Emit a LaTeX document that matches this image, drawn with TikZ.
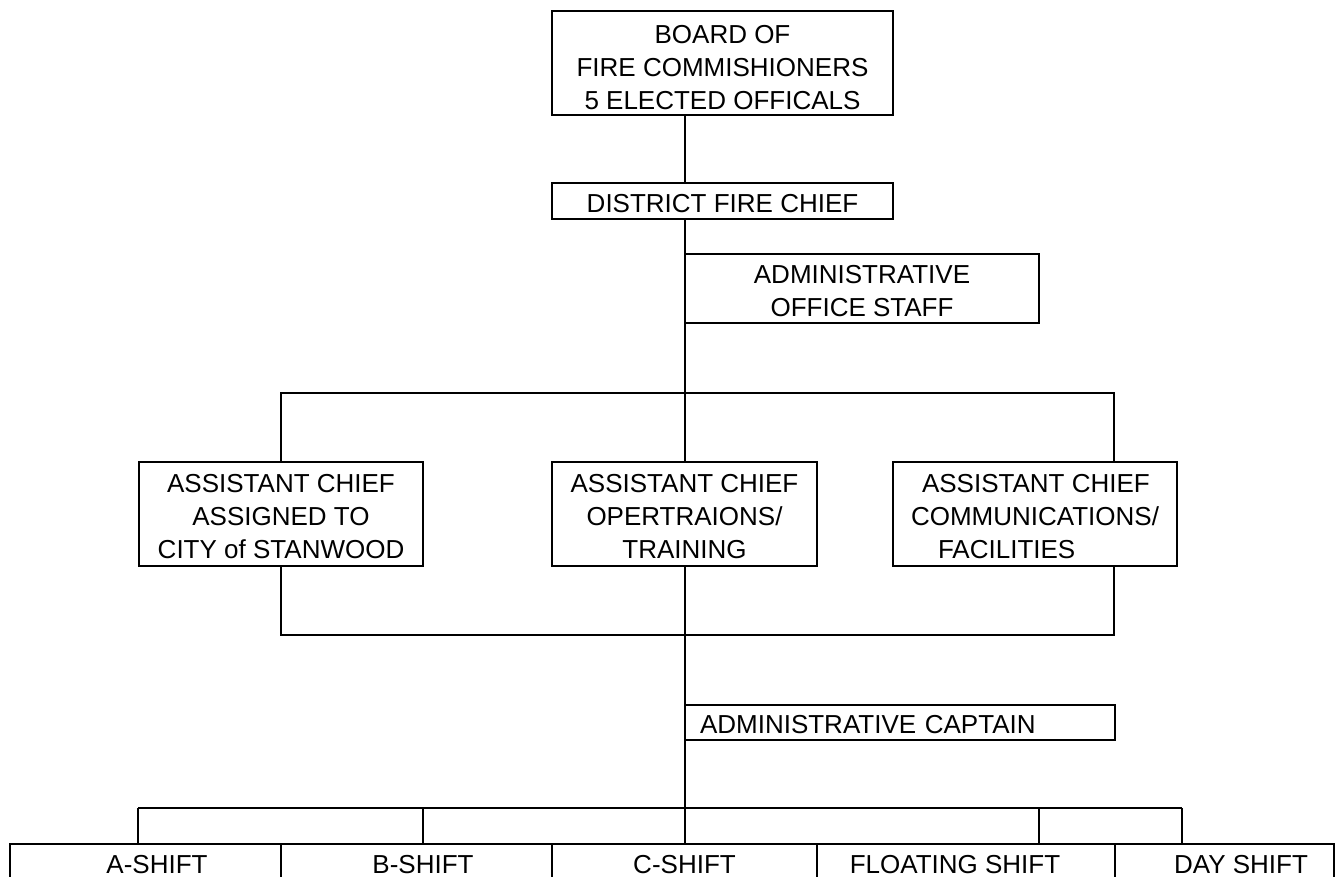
\documentclass[tikz,border=0pt]{standalone}
\usepackage{fontspec}
\setmainfont{Liberation Sans}
\newcommand{\lowr}[1]{\rule{0pt}{#1}}
\begin{document}
\begin{tikzpicture}[x=1pt,y=-1pt,
  box/.style={draw,line width=2pt,inner sep=0pt,outer sep=0pt,font=\fontsize{26}{33}\selectfont,align=center},
  shiftbox/.style={box,anchor=north,text height=29pt,text depth=30pt,minimum height=0pt},
  conn/.style={line width=2pt}]
\useasboundingbox (0,0) rectangle (1342,877);
\clip (0,0) rectangle (1342,877);
\fill[white] (0,0) rectangle (1342,877);

\node[box,minimum width=341pt,minimum height=104pt] (board) at (722.5,63) {\lowr{28pt}BOARD OF\\FIRE COMMISHIONERS\\5 ELECTED OFFICALS};
\node[box,minimum width=341pt,minimum height=36pt] (chief) at (722.5,201) {\lowr{24pt}DISTRICT FIRE CHIEF};
\node[box,minimum width=354pt,minimum height=69pt] (office) at (862,288.5) {\lowr{24pt}ADMINISTRATIVE\\OFFICE STAFF};
\node[box,minimum width=284pt,minimum height=104pt] (ac1) at (281,514) {\lowr{24pt}ASSISTANT CHIEF\\ASSIGNED TO\\CITY of STANWOOD};
\node[box,minimum width=265pt,minimum height=104pt] (ac2) at (684.5,514) {\lowr{24pt}ASSISTANT CHIEF\\OPERTRAIONS/\\TRAINING};
\node[box,minimum width=284pt,minimum height=104pt,align=left] (ac3) at (1035,514) {\lowr{24pt}\hspace*{11pt}ASSISTANT CHIEF\\COMMUNICATIONS/\\\hspace*{27pt}FACILITIES};
\node[box,minimum width=430pt,minimum height=35pt,text width=400pt,align=left] (captain) at (900,722.5) {\lowr{22.6pt}ADMINISTRATIVE CAPTAIN};

\node[shiftbox,minimum width=271pt] (sa) at (145.5,844) {\hspace*{23pt}A-SHIFT};
\node[shiftbox,minimum width=271pt] (sb) at (416.5,844) {\hspace*{13pt}B-SHIFT};
\node[shiftbox,minimum width=265pt] (sc) at (684.5,844) {C-SHIFT};
\node[shiftbox,minimum width=298pt] (sf) at (966,844) {FLOATING SHIFT\hspace*{22pt}};
\node[shiftbox,minimum width=219pt] (sd) at (1224.5,844) {\hspace*{33pt}DAY SHIFT};

\coordinate (spine) at (685,0);
\coordinate (right) at (1114,0);
\coordinate (bar1) at (0,393);
\coordinate (bar2) at (0,635);
\coordinate (bar3) at (0,808);
\coordinate (dA) at (138,0);
\coordinate (dB) at (423,0);
\coordinate (dF) at (1039,0);
\coordinate (dD) at (1182,0);

\draw[conn] (board.south -| spine) -- (chief.north -| spine);
\draw[conn] (chief.south -| spine) -- (ac2.north -| spine);
\draw[conn] (ac1.north) |- (bar1 -| right) -- (ac3.north -| right);
\draw[conn] (ac1.south) |- (bar2 -| right) -- (ac3.south -| right);
\draw[conn] (ac2.south -| spine) -- (sc.north -| spine);
\draw[conn] (bar3 -| dA) -- (bar3 -| dD);
\draw[conn] (bar3 -| dA) -- (sa.north -| dA);
\draw[conn] (bar3 -| dB) -- (sb.north -| dB);
\draw[conn] (bar3 -| dF) -- (sf.north -| dF);
\draw[conn] (bar3 -| dD) -- (sd.north -| dD);
\end{tikzpicture}
\end{document}
